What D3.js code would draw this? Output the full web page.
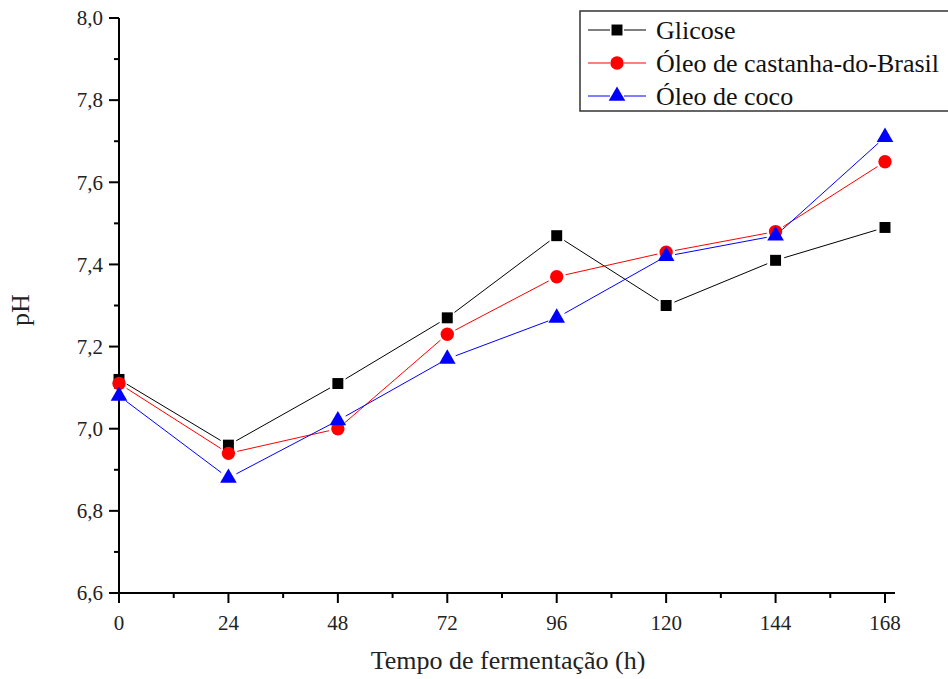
<!DOCTYPE html>
<html>
<head>
<meta charset="utf-8">
<script src="https://cdn.jsdelivr.net/npm/d3@7"></script>
<style>
  body { margin: 0; background: #fff; }
</style>
</head>
<body>
<svg id="chart" width="948" height="679"></svg>
<script>
// data
const hours = [0, 24, 48, 72, 96, 120, 144, 168];
const glicose = [7.12, 6.96, 7.11, 7.27, 7.47, 7.30, 7.41, 7.49];
const castanha = [7.11, 6.94, 7.00, 7.23, 7.37, 7.43, 7.48, 7.65];
const coco = [7.08, 6.88, 7.02, 7.17, 7.27, 7.42, 7.47, 7.71];
const seriesNames = ["Glicose", "Óleo de castanha-do-Brasil", "Óleo de coco"];
const xTicks = [0, 24, 48, 72, 96, 120, 144, 168];
const yTicks = [6.6, 6.8, 7.0, 7.2, 7.4, 7.6, 7.8, 8.0];

const FONT = '"Liberation Serif", "Times New Roman", serif';

const series = [
  { name: seriesNames[0], values: glicose, color: "#000000", shape: d3.symbolSquare, size: 120 },
  { name: seriesNames[1], values: castanha, color: "#ff0000", shape: d3.symbolCircle, size: 140 },
  { name: seriesNames[2], values: coco, color: "#0000ff", shape: d3.symbolTriangle, size: 120 }
];

const svg = d3.select("#chart");

const x = d3.scaleLinear().domain([0, 168]).range([119, 885]);
const y = d3.scaleLinear().domain([6.6, 8.0]).range([593, 18]);

// y axis
const yAxis = svg.append("g").attr("transform", "translate(119,0)");
yAxis.append("line").attr("x1", 0).attr("x2", 0).attr("y1", y(8.0)).attr("y2", y(6.6) + 1)
  .attr("stroke", "#000").attr("stroke-width", 2);
yAxis.selectAll("line.major").data(yTicks).join("line").attr("class", "major")
  .attr("x1", -10).attr("x2", 0).attr("y1", d => y(d)).attr("y2", d => y(d))
  .attr("stroke", "#000").attr("stroke-width", 2);
yAxis.selectAll("line.minor").data(yTicks.slice(0, -1).map(d => d + 0.1)).join("line").attr("class", "minor")
  .attr("x1", -5).attr("x2", 0).attr("y1", d => y(d)).attr("y2", d => y(d))
  .attr("stroke", "#000").attr("stroke-width", 2);
yAxis.selectAll("text").data(yTicks).join("text")
  .attr("x", -16).attr("y", d => y(d)).attr("dy", "0.35em")
  .attr("text-anchor", "end").attr("font-size", 21).style("font-family", FONT).attr("fill", "#222")
  .text(d => d3.format(".1f")(d).replace(".", ","));

// x axis
const xAxis = svg.append("g").attr("transform", "translate(0,593)");
xAxis.append("line").attr("x1", 118).attr("x2", 895).attr("y1", 0).attr("y2", 0)
  .attr("stroke", "#000").attr("stroke-width", 2);
xAxis.selectAll("line.major").data(xTicks).join("line").attr("class", "major")
  .attr("x1", d => x(d)).attr("x2", d => x(d)).attr("y1", 0).attr("y2", 10)
  .attr("stroke", "#000").attr("stroke-width", 2);
xAxis.selectAll("line.minor").data(xTicks.slice(0, -1).map(d => d + 12)).join("line").attr("class", "minor")
  .attr("x1", d => x(d)).attr("x2", d => x(d)).attr("y1", 0).attr("y2", 5)
  .attr("stroke", "#000").attr("stroke-width", 2);
xAxis.selectAll("text").data(xTicks).join("text")
  .attr("x", d => x(d)).attr("y", 37)
  .attr("text-anchor", "middle").attr("font-size", 21).style("font-family", FONT).attr("fill", "#222")
  .text(d => d);

// axis titles
svg.append("text").attr("x", 508).attr("y", 669).attr("text-anchor", "middle")
  .attr("font-size", 26).style("font-family", FONT).attr("fill", "#222").text("Tempo de fermentação (h)");
svg.append("text").attr("transform", "translate(29,310) rotate(-90)").attr("text-anchor", "middle")
  .attr("font-size", 26).style("font-family", FONT).attr("fill", "#222").text("pH");

// lines with gaps around markers
const gap = 9;
function segments(vals) {
  const pts = vals.map((v, i) => [x(hours[i]), y(v)]);
  const segs = [];
  for (let i = 0; i < pts.length - 1; i++) {
    const [x0, y0] = pts[i], [x1, y1] = pts[i + 1];
    const len = Math.hypot(x1 - x0, y1 - y0);
    const ux = (x1 - x0) / len, uy = (y1 - y0) / len;
    segs.push([x0 + ux * gap, y0 + uy * gap, x1 - ux * gap, y1 - uy * gap]);
  }
  return segs;
}

series.forEach(s => {
  const g = svg.append("g");
  g.selectAll("line").data(segments(s.values)).join("line")
    .attr("x1", d => d[0]).attr("y1", d => d[1]).attr("x2", d => d[2]).attr("y2", d => d[3])
    .attr("stroke", s.color).attr("stroke-width", 1);
  g.selectAll("path").data(s.values).join("path")
    .attr("transform", (d, i) => `translate(${x(hours[i])},${y(d)})`)
    .attr("d", d3.symbol().type(s.shape).size(s.size))
    .attr("fill", s.color);
});

// legend
const legend = svg.append("g");
legend.append("rect").attr("x", 580).attr("y", 11).attr("width", 380).attr("height", 100)
  .attr("fill", "#fff").attr("stroke", "#333").attr("stroke-width", 1.5);
series.forEach((s, i) => {
  const ly = 30 + i * 33;
  legend.append("line").attr("x1", 588).attr("x2", 610).attr("y1", ly).attr("y2", ly)
    .attr("stroke", s.color).attr("stroke-width", 1);
  legend.append("line").attr("x1", 624).attr("x2", 646).attr("y1", ly).attr("y2", ly)
    .attr("stroke", s.color).attr("stroke-width", 1);
  legend.append("path").attr("transform", `translate(617,${ly})`)
    .attr("d", d3.symbol().type(s.shape).size(s.size)).attr("fill", s.color);
  legend.append("text").attr("x", 656).attr("y", ly).attr("dy", "0.35em")
    .attr("font-size", 26).style("font-family", FONT).attr("fill", "#111").text(s.name);
});
</script>
</body>
</html>
